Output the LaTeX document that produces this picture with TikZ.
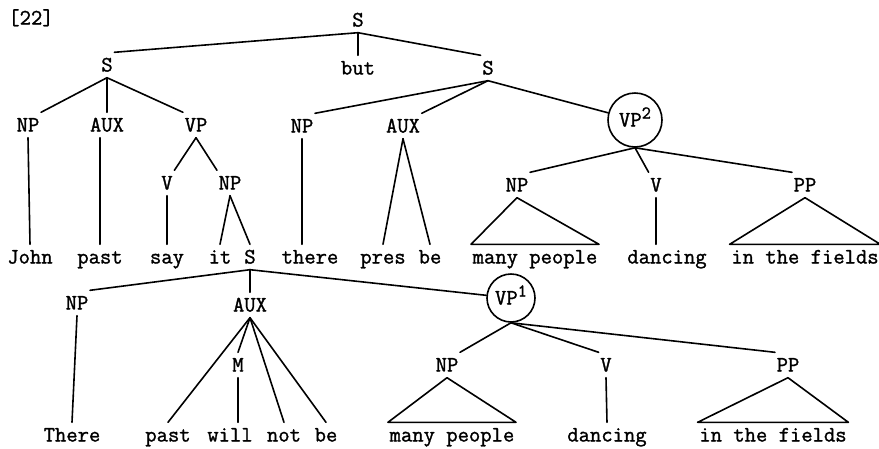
\documentclass[tikz,border=0pt]{standalone}
\usepackage{fontspec}
\newfontfamily\tw[FakeBold=1.3]{Latin Modern Mono}
\begin{document}
\begin{tikzpicture}[x=1pt,y=-1pt,
  lbl/.style={font=\tw\fontsize{22}{24}\selectfont, text height=13pt, text depth=0pt, inner xsep=1.5pt, inner ysep=6pt},
  circ/.style={lbl, circle, draw, line width=1.6pt, inner sep=0pt},
  br/.style={line width=1.6pt, line cap=round, line join=round}]
\useasboundingbox (0,0) rectangle (879,448);
% labels
\node[lbl] (tag) at (31,18) {[22]};
\node[lbl] (S0) at (358,20) {S};
\node[lbl] (S1) at (107,65) {S};
\node[lbl] (but) at (358,68) {but};
\node[lbl] (S2) at (488,68) {S};
\node[lbl] (np1) at (28,125) {NP};
\node[lbl] (aux1) at (107,125) {AUX};
\node[lbl] (vp1) at (196,125) {VP};
\node[lbl] (np2) at (302,126) {NP};
\node[lbl] (aux2) at (403,126) {AUX};
\node[circ, minimum size=54pt] (vp2) at (635,120) {VP\raisebox{8pt}{\fontsize{18}{18}\selectfont 2}};
\node[lbl] (v1) at (167,183) {V};
\node[lbl] (np3) at (230,183) {NP};
\node[lbl] (np4) at (517,185) {NP};
\node[lbl] (v2) at (656,185) {V};
\node[lbl] (pp1) at (805,185) {PP};
% first word row
\node[lbl] (john) at (30,257) {John};
\node[lbl] (past1) at (100,257) {past};
\node[lbl] (say) at (167,257) {say};
\node[lbl] (it) at (220,257) {it};
\node[lbl] (S3) at (250,257) {S};
\node[lbl] (there1) at (310,257) {there};
\node[lbl] (pres) at (383,257) {pres};
\node[lbl] (be1) at (430,257) {be};
\node[lbl] (mp1) at (535,257) {many people};
\node[lbl] (dancing1) at (667,257) {dancing};
\node[lbl] (fields1) at (805,257) {in the fields};
% lower tree
\node[lbl] (np5) at (77,303) {NP};
\node[lbl] (aux3) at (250,305) {AUX};
\node[circ, minimum size=48pt] (vp3) at (511,298) {VP\raisebox{8pt}{\fontsize{18}{18}\selectfont 1}};
\node[lbl] (m) at (238,365) {M};
\node[lbl] (np6) at (447,365) {NP};
\node[lbl] (v3) at (606,365) {V};
\node[lbl] (pp2) at (788,365) {PP};
% bottom words
\node[lbl] (there2) at (72,435) {There};
\node[lbl] (past2) at (168,435) {past};
\node[lbl] (will) at (230,435) {will};
\node[lbl] (not) at (284,435) {not};
\node[lbl] (be2) at (326,435) {be};
\node[lbl] (mp2) at (452,435) {many people};
\node[lbl] (dancing2) at (607,435) {dancing};
\node[lbl] (fields2) at (773,435) {in the fields};
% branches
\draw[br] (S0.south) -- (S1.north east);
\draw[br] (S0.south) -- (but.north);
\draw[br] (S0.south) -- (S2.north west);
\draw[br] (S1.south) -- (np1.north east);
\draw[br] (S1.south) -- (aux1.north);
\draw[br] (S1.south) -- (vp1.north west);
\draw[br] (S2.south) -- (np2.north east);
\draw[br] (S2.south) -- (aux2.north east);
\draw[br] (S2.south) -- (vp2);
\draw[br] (np1.south) -- (john.north);
\draw[br] (past1.north |- aux1.south) -- (past1.north);
\draw[br] (vp1.south) -- (v1.north east);
\draw[br] (vp1.south) -- (np3.north west);
\draw[br] (v1.south) -- (say.north);
\draw[br] (np3.south) -- (it.north);
\draw[br] (np3.south) -- (S3.north);
\draw[br] (np2.south) -- (np2.south |- there1.north);
\draw[br] (aux2.south) -- (pres.north);
\draw[br] (aux2.south) -- (be1.north);
\draw[br] (vp2.south) -- (np4.north east);
\draw[br] (vp2.south) -- (v2.north west);
\draw[br] (vp2.south) -- (pp1.north west);
\draw[br] (np4.south) -- (mp1.north west) -- (mp1.north east) -- cycle;
\draw[br] (v2.south) -- (v2.south |- dancing1.north);
\draw[br] (pp1.south) -- (fields1.north west) -- (fields1.north east) -- cycle;
\draw[br] (S3.south) -- (np5.north east);
\draw[br] (S3.south) -- (aux3.north);
\draw[br] (S3.south) -- (vp3);
\draw[br] (np5.south) -- (there2.north);
\draw[br] (aux3.south) -- (past2.north);
\draw[br] (aux3.south) -- (m.north);
\draw[br] (aux3.south) -- (not.north);
\draw[br] (aux3.south) -- (be2.north);
\draw[br] (m.south) -- (m.south |- will.north);
\draw[br] (vp3.south) -- (np6.north east);
\draw[br] (vp3.south) -- (v3.north west);
\draw[br] (vp3.south) -- (pp2.north west);
\draw[br] (np6.south) -- (mp2.north west) -- (mp2.north east) -- cycle;
\draw[br] (v3.south) -- (dancing2.north);
\draw[br] (pp2.south) -- (fields2.north west) -- (fields2.north east) -- cycle;
\end{tikzpicture}
\end{document}
